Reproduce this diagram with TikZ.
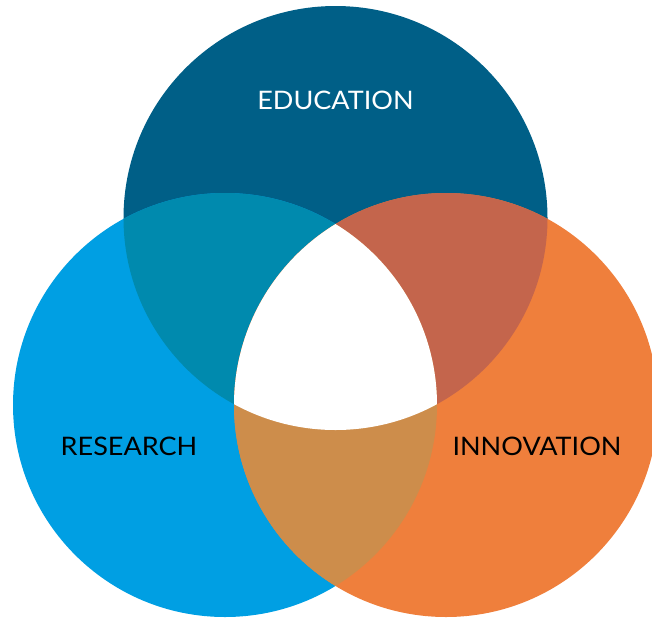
\documentclass[tikz,border=0pt]{standalone}
\usepackage{fontspec}
\setsansfont{Lato}
\usepackage{tikz}
\definecolor{educ}{RGB}{0,95,135}
\definecolor{resrch}{RGB}{0,159,227}
\definecolor{innov}{RGB}{239,127,60}
\definecolor{edures}{RGB}{0,138,174}
\definecolor{eduinn}{RGB}{196,101,76}
\definecolor{resinn}{RGB}{205,141,75}
\tikzset{%
    setname/.style={font=\sffamily\fontsize{25.5}{25.5}\selectfont, inner sep=0pt,
        xscale=1.06, transform shape}
}

\begin{document}
\begin{tikzpicture}[x=1pt,y=-1pt]
    \clip (0,0) rectangle (652,619);
    \coordinate (edu) at (335.5,218);
    \coordinate (res) at (225,405);
    \coordinate (inn) at (446,405);
    \fill[educ] (edu) circle (212pt);
    \fill[resrch] (res) circle (212pt);
    \fill[innov] (inn) circle (212pt);
    \begin{scope}
        \clip (edu) circle (212pt);
        \fill[edures] (res) circle (212pt);
        \fill[eduinn] (inn) circle (212pt);
    \end{scope}
    \begin{scope}
        \clip (res) circle (212pt);
        \fill[resinn] (inn) circle (212pt);
        \clip (inn) circle (212pt);
        \fill[white] (edu) circle (212pt);
    \end{scope}
    \node[setname, white] (edutext) at (335.5,100.5) {EDUCATION};
    \node[setname] (restext) at (129,446.5) {RESEARCH};
    \node[setname] (inntext) at (537,446.5) {INNOVATION};
\end{tikzpicture}
\end{document}
